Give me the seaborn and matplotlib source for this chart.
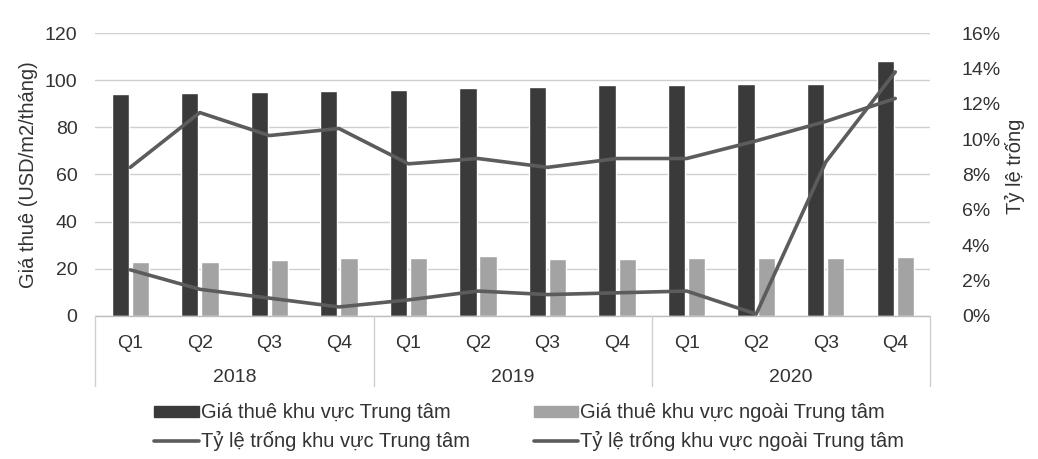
import numpy as np
import pandas as pd
import seaborn as sns
import matplotlib.pyplot as plt
from matplotlib.patches import Patch
from matplotlib.lines import Line2D
from matplotlib.ticker import PercentFormatter

quarters = ['Q1', 'Q2', 'Q3', 'Q4']
years = ['2018', '2019', '2020']
rent_center = [94, 94.5, 95, 95.5, 96, 96.5, 97, 98, 98, 98.5, 98.5, 108]
rent_outside = [23, 23, 23.5, 24.5, 24.5, 25.5, 24, 24, 24.5, 24.5, 24.5, 25]
vac_center = [8.4, 11.5, 10.2, 10.6, 8.6, 8.9, 8.4, 8.9, 8.9, 9.9, 11.0, 12.3]
vac_outside = [2.6, 1.5, 1.0, 0.5, 0.9, 1.4, 1.2, 1.3, 1.4, 0.1, 8.7, 13.8]

lbl_bar1 = 'Giá thuê khu vực Trung tâm'
lbl_bar2 = 'Giá thuê khu vực ngoài Trung tâm'
lbl_line1 = 'Tỷ lệ trống khu vực Trung tâm'
lbl_line2 = 'Tỷ lệ trống khu vực ngoài Trung tâm'

periods = [y + ' ' + q for y in years for q in quarters]
idx = list(range(len(periods)))

bars = pd.DataFrame({
    'period': periods * 2,
    'rent': rent_center + rent_outside,
    'series': [lbl_bar1] * len(periods) + [lbl_bar2] * len(periods),
})
lines = pd.DataFrame({'idx': idx, 'center': vac_center, 'outside': vac_outside})

sns.set_style('white')
plt.rcParams['font.family'] = ['Liberation Sans', 'DejaVu Sans']
dark = '#3a3a3a'
light = '#a3a3a3'
linec = '#5c5c5c'
txt = '#333333'
fs = 14

fig = plt.figure(figsize=(10.38, 4.59), dpi=100)
ax = fig.add_axes([0.092, 0.312, 0.804, 0.616])

sns.barplot(data=bars, x='period', y='rent', hue='series',
            hue_order=[lbl_bar1, lbl_bar2], palette=[dark, light],
            width=0.58, gap=0.14, order=periods, ax=ax, legend=False)
ax.set_ylim(0, 120)
ax.set_xlim(-0.5, 11.5)
ax.set_yticks(range(0, 121, 20))
ax.yaxis.grid(True, color='#cfcfcf', lw=1)
ax.set_axisbelow(True)
for s in ax.spines.values():
    s.set_visible(False)
ax.set_xticks(idx)
ax.set_xticklabels(quarters * 3, fontsize=fs, color=txt)
ax.tick_params(axis='x', length=0, pad=14)
ax.tick_params(axis='y', length=0, labelsize=fs, labelcolor=txt, pad=13)
ax.set_xlabel('')
ax.set_ylabel('Giá thuê (USD/m2/tháng)', fontsize=fs + 0.5, color=txt, labelpad=5)

trans = ax.get_xaxis_transform()
ax.plot([-0.5, 11.5], [0, 0], color='#bdbdbd', lw=1, transform=trans, clip_on=False)
for b in [-0.5, 3.5, 7.5, 11.5]:
    ax.plot([b, b], [0, -0.25], color='#cfcfcf', lw=1, transform=trans, clip_on=False)
for i, y in enumerate(years):
    ax.text(4 * i + 1.5, -0.22, y, transform=trans, ha='center', va='center',
            fontsize=fs, color=txt)

ax2 = ax.twinx()
sns.lineplot(data=lines, x='idx', y='center', color=linec, lw=2.6, ax=ax2)
sns.lineplot(data=lines, x='idx', y='outside', color=linec, lw=2.6, ax=ax2)
ax2.set_ylim(0, 16)
ax2.set_yticks(range(0, 17, 2))
ax2.yaxis.set_major_formatter(PercentFormatter(decimals=0))
ax2.tick_params(axis='y', length=0, labelsize=fs, labelcolor=txt, pad=23)
for s in ax2.spines.values():
    s.set_visible(False)
ax2.set_xlim(-0.5, 11.5)
ax2.set_ylabel('Tỷ lệ trống', fontsize=fs + 0.5, color=txt)
ax2.yaxis.set_label_coords(1.09, 0.53)

handles = [Patch(color=dark), Patch(color=light),
           Line2D([], [], color=linec, lw=2.6), Line2D([], [], color=linec, lw=2.6)]
labels = [lbl_bar1, lbl_bar2, lbl_line1, lbl_line2]
order = [0, 2, 1, 3]
fig.legend([handles[i] for i in order], [labels[i] for i in order],
           loc='lower center', bbox_to_anchor=(0.51, -0.022), ncol=2, frameon=False,
           fontsize=14.5, handlelength=2.2, handleheight=0.5, handletextpad=0.1,
           columnspacing=3.2, labelspacing=0.42, labelcolor=txt)

fig.savefig('out.png', dpi=100)
